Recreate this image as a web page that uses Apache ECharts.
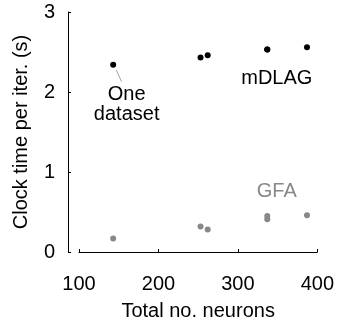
<!DOCTYPE html>
<html>
<head>
<meta charset="utf-8">
<script src="https://cdn.jsdelivr.net/npm/echarts@6/dist/echarts.min.js"></script>
<style>
html,body{margin:0;padding:0;background:#fff;}
#c{width:337px;height:326px;}
</style>
</head>
<body>
<div id="c"></div>
<script>
// Data
const neurons = [143, 253, 262, 337, 337, 387];
const mdlagTime = [2.34, 2.43, 2.46, 2.53, 2.53, 2.56];
const gfaTime = [0.17, 0.32, 0.28, 0.45, 0.41, 0.46];
const xTicks = [100, 200, 300, 400];
const yTicks = [0, 1, 2, 3];
const labelMDLAG = { text: 'mDLAG', x: 349, y: 2.17 };
const labelGFA = { text: 'GFA', x: 349, y: 0.76 };
const labelOne = { text: 'One\ndataset', x: 160, y: 1.84 };
const pointerLine = [[147, 2.275], [153.5, 2.13]];

const FONT = 'Liberation Sans, Arial, sans-serif';
const chart = echarts.init(document.getElementById('c'), null, { renderer: 'canvas' });

function textSeries(lbl, color) {
  return {
    type: 'scatter',
    silent: true,
    symbolSize: 1,
    itemStyle: { color: 'rgba(0,0,0,0)' },
    data: [[lbl.x, lbl.y]],
    label: {
      show: true,
      position: 'inside',
      formatter: lbl.text,
      color: color,
      opacity: 1,
      textBorderWidth: 0,
      fontSize: 20,
      fontFamily: FONT,
      lineHeight: 20,
      align: 'center',
      verticalAlign: 'middle'
    },
    labelLayout: { hideOverlap: false },
    z: 5
  };
}

chart.setOption({
  animation: false,
  backgroundColor: '#fff',
  grid: { left: 79, right: 19, top: 12, bottom: 74 },
  xAxis: {
    type: 'value',
    min: xTicks[0], max: xTicks[xTicks.length - 1], interval: 100,
    offset: 11,
    name: 'Total no. neurons',
    nameLocation: 'middle',
    nameGap: 38,
    nameTextStyle: { fontSize: 20, fontFamily: FONT, color: '#000' },
    axisLine: { show: true, lineStyle: { color: '#000', width: 1 } },
    axisTick: { show: true, inside: true, length: 3, lineStyle: { color: '#000' } },
    axisLabel: { fontSize: 20, fontFamily: FONT, color: '#000', margin: 11 },
    splitLine: { show: false }
  },
  yAxis: {
    type: 'value',
    min: yTicks[0], max: yTicks[yTicks.length - 1], interval: 1,
    offset: 11,
    name: 'Clock time per iter. (s)',
    nameLocation: 'middle',
    nameGap: 37,
    nameTextStyle: { fontSize: 20, fontFamily: FONT, color: '#000' },
    axisLine: { show: true, lineStyle: { color: '#000', width: 1 } },
    axisTick: { show: true, inside: true, length: 3, lineStyle: { color: '#000' } },
    axisLabel: { fontSize: 20, fontFamily: FONT, color: '#000', margin: 13 },
    splitLine: { show: false }
  },
  series: [
    {
      name: 'mDLAG', type: 'scatter', symbolSize: 6,
      itemStyle: { color: '#000', opacity: 1 },
      data: neurons.map((n, i) => [n, mdlagTime[i]]), z: 3
    },
    {
      name: 'GFA', type: 'scatter', symbolSize: 6,
      itemStyle: { color: '#888', opacity: 1 },
      data: neurons.map((n, i) => [n, gfaTime[i]]), z: 3
    },
    {
      type: 'line', silent: true, symbol: 'none',
      lineStyle: { color: '#888', width: 0.8 },
      data: pointerLine
    },
    textSeries(labelMDLAG, '#000'),
    textSeries(labelGFA, '#888'),
    textSeries(labelOne, '#000')
  ]
});
</script>
</body>
</html>
